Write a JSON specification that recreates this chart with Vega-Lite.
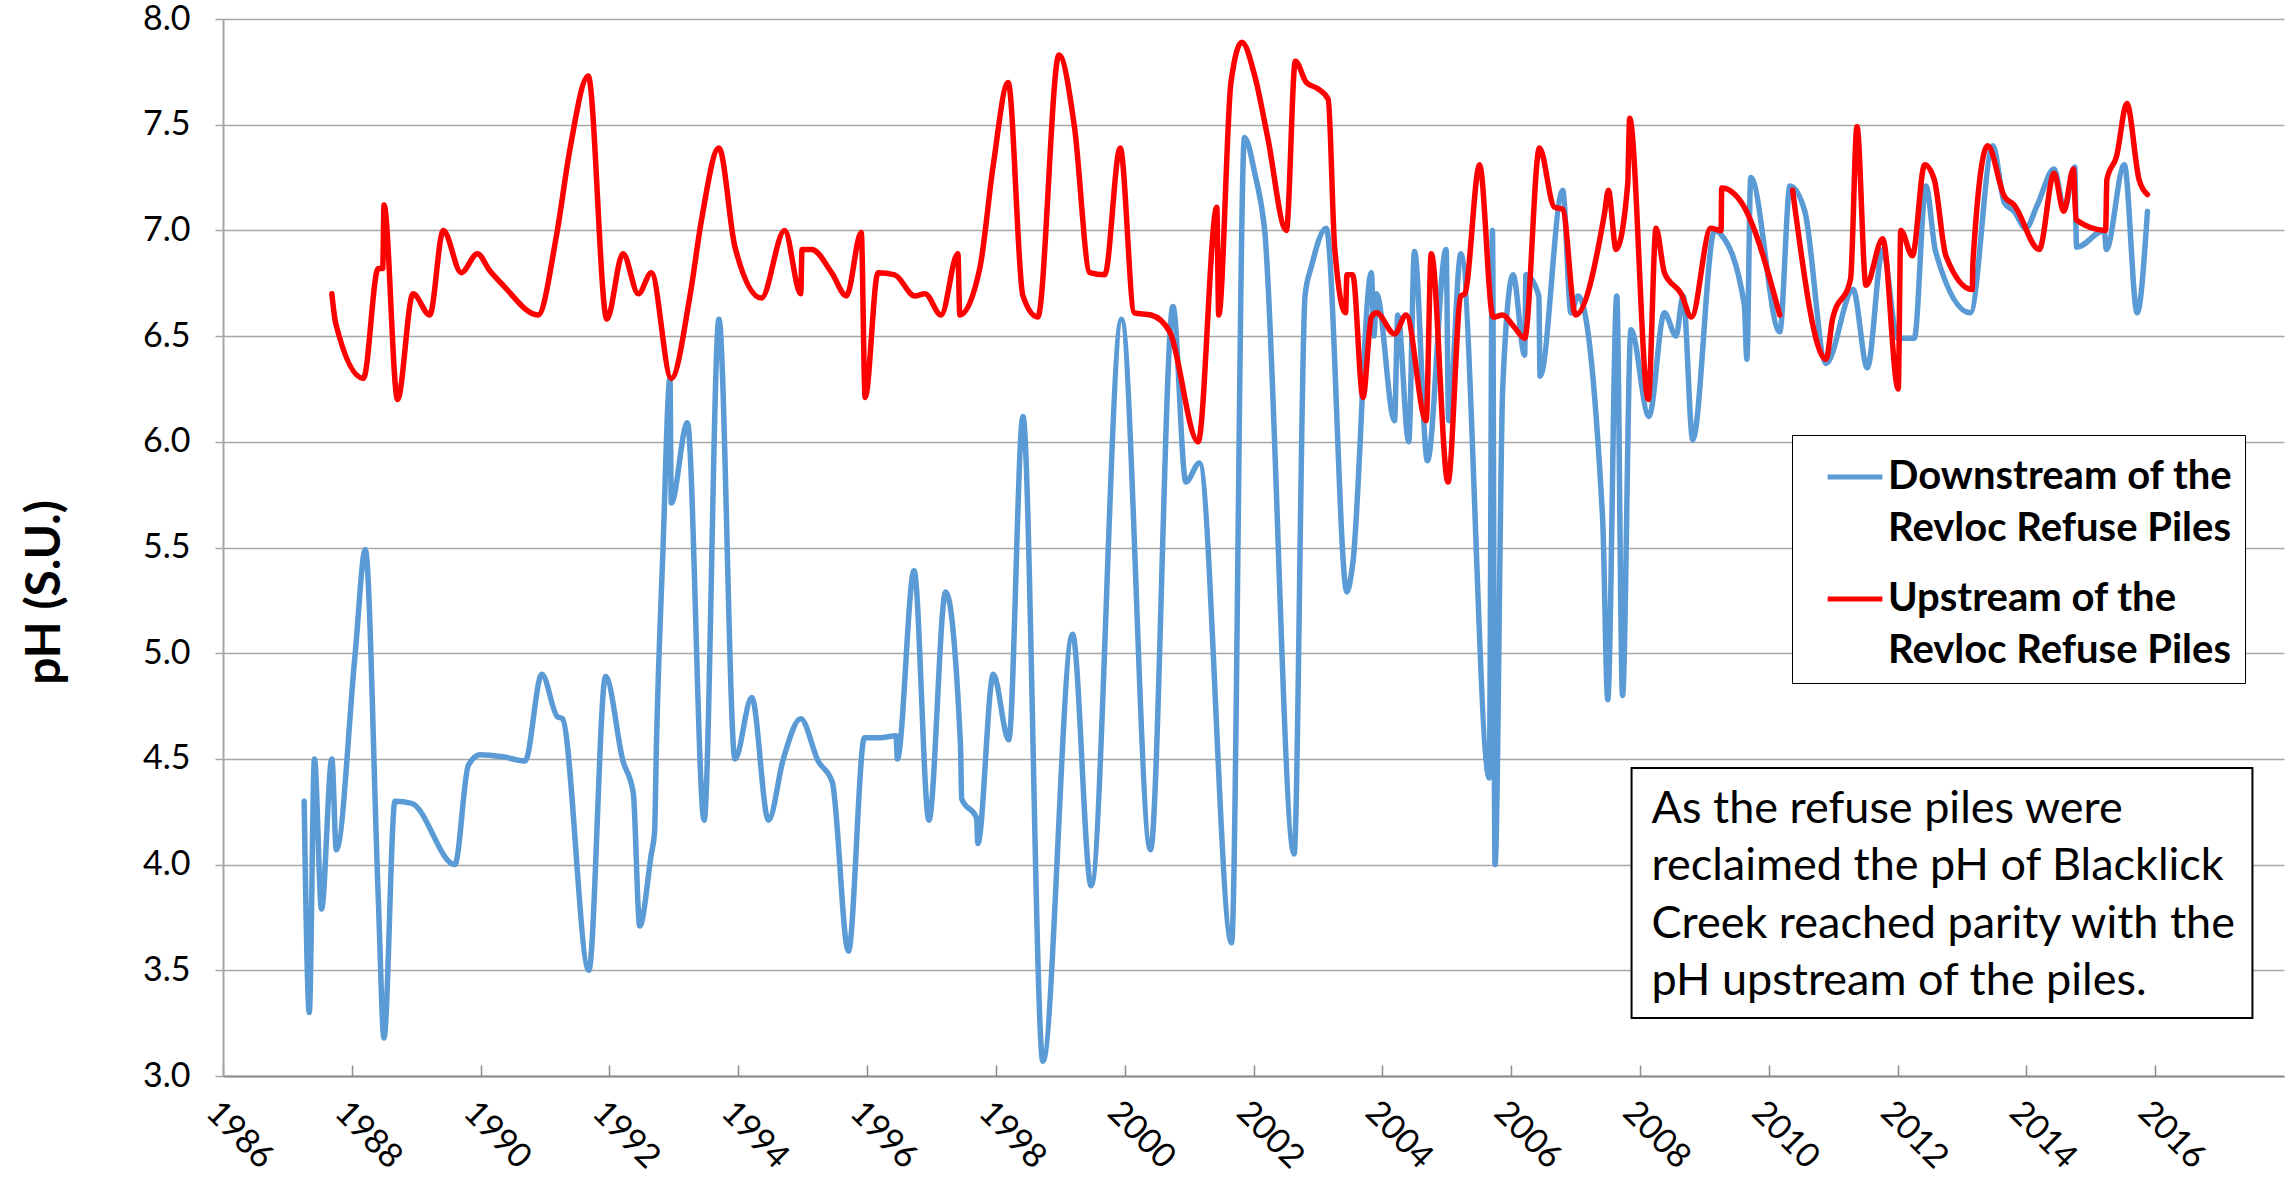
{
  "$schema": "https://vega.github.io/schema/vega-lite/v6.json",
  "width": 2061,
  "height": 1057,
  "autosize": {"type": "none"},
  "padding": {"left": 223, "top": 19, "right": 8, "bottom": 107},
  "background": "white",
  "config": {"view": {"stroke": null}, "font": "Lato", "style": {"guide-label": {"lineHeight": 52}}},
  "datasets": {
    "ph": [
      {"series": "Downstream", "seg": "D1", "year": 1987.26, "pH": 4.30},
      {"series": "Downstream", "seg": "D1", "year": 1987.34, "pH": 3.30},
      {"series": "Downstream", "seg": "D1", "year": 1987.42, "pH": 4.50},
      {"series": "Downstream", "seg": "D1", "year": 1987.53, "pH": 3.79},
      {"series": "Downstream", "seg": "D1", "year": 1987.69, "pH": 4.50},
      {"series": "Downstream", "seg": "D1", "year": 1987.76, "pH": 4.07},
      {"series": "Downstream", "seg": "D1", "year": 1988.05, "pH": 4.99},
      {"series": "Downstream", "seg": "D1", "year": 1988.21, "pH": 5.49},
      {"series": "Downstream", "seg": "D1", "year": 1988.41, "pH": 3.85},
      {"series": "Downstream", "seg": "D1", "year": 1988.50, "pH": 3.18},
      {"series": "Downstream", "seg": "D1", "year": 1988.67, "pH": 4.30},
      {"series": "Downstream", "seg": "D1", "year": 1988.93, "pH": 4.29},
      {"series": "Downstream", "seg": "D1", "year": 1989.60, "pH": 4.00},
      {"series": "Downstream", "seg": "D1", "year": 1989.81, "pH": 4.47},
      {"series": "Downstream", "seg": "D1", "year": 1989.99, "pH": 4.52},
      {"series": "Downstream", "seg": "D1", "year": 1990.35, "pH": 4.51},
      {"series": "Downstream", "seg": "D1", "year": 1990.69, "pH": 4.49},
      {"series": "Downstream", "seg": "D1", "year": 1990.95, "pH": 4.90},
      {"series": "Downstream", "seg": "D1", "year": 1991.19, "pH": 4.70},
      {"series": "Downstream", "seg": "D1", "year": 1991.27, "pH": 4.69},
      {"series": "Downstream", "seg": "D1", "year": 1991.68, "pH": 3.50},
      {"series": "Downstream", "seg": "D1", "year": 1991.94, "pH": 4.89},
      {"series": "Downstream", "seg": "D1", "year": 1992.21, "pH": 4.49},
      {"series": "Downstream", "seg": "D1", "year": 1992.37, "pH": 4.34},
      {"series": "Downstream", "seg": "D1", "year": 1992.47, "pH": 3.71},
      {"series": "Downstream", "seg": "D1", "year": 1992.65, "pH": 4.05},
      {"series": "Downstream", "seg": "D1", "year": 1992.70, "pH": 4.15},
      {"series": "Downstream", "seg": "D1", "year": 1992.73, "pH": 4.57},
      {"series": "Downstream", "seg": "D1", "year": 1992.83, "pH": 5.48},
      {"series": "Downstream", "seg": "D1", "year": 1992.94, "pH": 6.30},
      {"series": "Downstream", "seg": "D1", "year": 1992.96, "pH": 5.71},
      {"series": "Downstream", "seg": "D1", "year": 1993.21, "pH": 6.09},
      {"series": "Downstream", "seg": "D1", "year": 1993.47, "pH": 4.21},
      {"series": "Downstream", "seg": "D1", "year": 1993.70, "pH": 6.58},
      {"series": "Downstream", "seg": "D1", "year": 1993.95, "pH": 4.50},
      {"series": "Downstream", "seg": "D1", "year": 1994.21, "pH": 4.79},
      {"series": "Downstream", "seg": "D1", "year": 1994.47, "pH": 4.21},
      {"series": "Downstream", "seg": "D1", "year": 1994.70, "pH": 4.50},
      {"series": "Downstream", "seg": "D1", "year": 1994.97, "pH": 4.69},
      {"series": "Downstream", "seg": "D1", "year": 1995.24, "pH": 4.49},
      {"series": "Downstream", "seg": "D1", "year": 1995.46, "pH": 4.39},
      {"series": "Downstream", "seg": "D1", "year": 1995.71, "pH": 3.59},
      {"series": "Downstream", "seg": "D1", "year": 1995.96, "pH": 4.60},
      {"series": "Downstream", "seg": "D1", "year": 1996.20, "pH": 4.60},
      {"series": "Downstream", "seg": "D1", "year": 1996.45, "pH": 4.61},
      {"series": "Downstream", "seg": "D1", "year": 1996.47, "pH": 4.50},
      {"series": "Downstream", "seg": "D1", "year": 1996.73, "pH": 5.39},
      {"series": "Downstream", "seg": "D1", "year": 1996.96, "pH": 4.21},
      {"series": "Downstream", "seg": "D1", "year": 1997.22, "pH": 5.29},
      {"series": "Downstream", "seg": "D1", "year": 1997.45, "pH": 4.57},
      {"series": "Downstream", "seg": "D1", "year": 1997.47, "pH": 4.31},
      {"series": "Downstream", "seg": "D1", "year": 1997.70, "pH": 4.22},
      {"series": "Downstream", "seg": "D1", "year": 1997.72, "pH": 4.10},
      {"series": "Downstream", "seg": "D1", "year": 1997.96, "pH": 4.90},
      {"series": "Downstream", "seg": "D1", "year": 1998.20, "pH": 4.59},
      {"series": "Downstream", "seg": "D1", "year": 1998.42, "pH": 6.12},
      {"series": "Downstream", "seg": "D1", "year": 1998.73, "pH": 3.07},
      {"series": "Downstream", "seg": "D1", "year": 1999.19, "pH": 5.09},
      {"series": "Downstream", "seg": "D1", "year": 1999.48, "pH": 3.90},
      {"series": "Downstream", "seg": "D1", "year": 1999.95, "pH": 6.58},
      {"series": "Downstream", "seg": "D1", "year": 2000.40, "pH": 4.07},
      {"series": "Downstream", "seg": "D1", "year": 2000.75, "pH": 6.64},
      {"series": "Downstream", "seg": "D1", "year": 2000.95, "pH": 5.81},
      {"series": "Downstream", "seg": "D1", "year": 2001.16, "pH": 5.90},
      {"series": "Downstream", "seg": "D1", "year": 2001.66, "pH": 3.63},
      {"series": "Downstream", "seg": "D1", "year": 2001.86, "pH": 7.44},
      {"series": "Downstream", "seg": "D1", "year": 2002.02, "pH": 7.27},
      {"series": "Downstream", "seg": "D1", "year": 2002.17, "pH": 7.01},
      {"series": "Downstream", "seg": "D1", "year": 2002.63, "pH": 4.05},
      {"series": "Downstream", "seg": "D1", "year": 2002.80, "pH": 6.69},
      {"series": "Downstream", "seg": "D1", "year": 2002.90, "pH": 6.83},
      {"series": "Downstream", "seg": "D1", "year": 2003.13, "pH": 7.01},
      {"series": "Downstream", "seg": "D1", "year": 2003.45, "pH": 5.29},
      {"series": "Downstream", "seg": "D1", "year": 2003.54, "pH": 5.42},
      {"series": "Downstream", "seg": "D1", "year": 2003.83, "pH": 6.80},
      {"series": "Downstream", "seg": "D1", "year": 2003.87, "pH": 6.50},
      {"series": "Downstream", "seg": "D1", "year": 2003.91, "pH": 6.70},
      {"series": "Downstream", "seg": "D1", "year": 2004.19, "pH": 6.10},
      {"series": "Downstream", "seg": "D1", "year": 2004.24, "pH": 6.60},
      {"series": "Downstream", "seg": "D1", "year": 2004.41, "pH": 6.00},
      {"series": "Downstream", "seg": "D1", "year": 2004.50, "pH": 6.90},
      {"series": "Downstream", "seg": "D1", "year": 2004.70, "pH": 5.91},
      {"series": "Downstream", "seg": "D1", "year": 2004.99, "pH": 6.91},
      {"series": "Downstream", "seg": "D1", "year": 2005.03, "pH": 6.10},
      {"series": "Downstream", "seg": "D1", "year": 2005.22, "pH": 6.89},
      {"series": "Downstream", "seg": "D1", "year": 2005.66, "pH": 4.41},
      {"series": "Downstream", "seg": "D1", "year": 2005.71, "pH": 7.00},
      {"series": "Downstream", "seg": "D1", "year": 2005.75, "pH": 4.00},
      {"series": "Downstream", "seg": "D1", "year": 2005.87, "pH": 6.26},
      {"series": "Downstream", "seg": "D1", "year": 2006.03, "pH": 6.79},
      {"series": "Downstream", "seg": "D1", "year": 2006.21, "pH": 6.41},
      {"series": "Downstream", "seg": "D1", "year": 2006.23, "pH": 6.79},
      {"series": "Downstream", "seg": "D1", "year": 2006.43, "pH": 6.69},
      {"series": "Downstream", "seg": "D1", "year": 2006.45, "pH": 6.31},
      {"series": "Downstream", "seg": "D1", "year": 2006.80, "pH": 7.19},
      {"series": "Downstream", "seg": "D1", "year": 2006.93, "pH": 6.61},
      {"series": "Downstream", "seg": "D1", "year": 2007.04, "pH": 6.69},
      {"series": "Downstream", "seg": "D1", "year": 2007.42, "pH": 5.64},
      {"series": "Downstream", "seg": "D1", "year": 2007.50, "pH": 4.78},
      {"series": "Downstream", "seg": "D1", "year": 2007.64, "pH": 6.69},
      {"series": "Downstream", "seg": "D1", "year": 2007.73, "pH": 4.80},
      {"series": "Downstream", "seg": "D1", "year": 2007.86, "pH": 6.53},
      {"series": "Downstream", "seg": "D1", "year": 2008.14, "pH": 6.12},
      {"series": "Downstream", "seg": "D1", "year": 2008.38, "pH": 6.61},
      {"series": "Downstream", "seg": "D1", "year": 2008.56, "pH": 6.50},
      {"series": "Downstream", "seg": "D1", "year": 2008.67, "pH": 6.69},
      {"series": "Downstream", "seg": "D1", "year": 2008.82, "pH": 6.01},
      {"series": "Downstream", "seg": "D1", "year": 2009.16, "pH": 7.00},
      {"series": "Downstream", "seg": "D1", "year": 2009.26, "pH": 6.98},
      {"series": "Downstream", "seg": "D1", "year": 2009.62, "pH": 6.65},
      {"series": "Downstream", "seg": "D1", "year": 2009.66, "pH": 6.39},
      {"series": "Downstream", "seg": "D1", "year": 2009.72, "pH": 7.25},
      {"series": "Downstream", "seg": "D1", "year": 2010.17, "pH": 6.52},
      {"series": "Downstream", "seg": "D1", "year": 2010.33, "pH": 7.21},
      {"series": "Downstream", "seg": "D1", "year": 2010.56, "pH": 7.09},
      {"series": "Downstream", "seg": "D1", "year": 2010.89, "pH": 6.37},
      {"series": "Downstream", "seg": "D1", "year": 2011.31, "pH": 6.72},
      {"series": "Downstream", "seg": "D1", "year": 2011.53, "pH": 6.35},
      {"series": "Downstream", "seg": "D1", "year": 2011.77, "pH": 6.91},
      {"series": "Downstream", "seg": "D1", "year": 2012.00, "pH": 6.49},
      {"series": "Downstream", "seg": "D1", "year": 2012.26, "pH": 6.49},
      {"series": "Downstream", "seg": "D1", "year": 2012.44, "pH": 7.21},
      {"series": "Downstream", "seg": "D1", "year": 2012.59, "pH": 6.90},
      {"series": "Downstream", "seg": "D1", "year": 2013.13, "pH": 6.61},
      {"series": "Downstream", "seg": "D1", "year": 2013.48, "pH": 7.40},
      {"series": "Downstream", "seg": "D1", "year": 2013.66, "pH": 7.13},
      {"series": "Downstream", "seg": "D1", "year": 2013.81, "pH": 7.09},
      {"series": "Downstream", "seg": "D1", "year": 2013.99, "pH": 7.01},
      {"series": "Downstream", "seg": "D1", "year": 2014.17, "pH": 7.12},
      {"series": "Downstream", "seg": "D1", "year": 2014.43, "pH": 7.29},
      {"series": "Downstream", "seg": "D1", "year": 2014.59, "pH": 7.10},
      {"series": "Downstream", "seg": "D1", "year": 2014.75, "pH": 7.30},
      {"series": "Downstream", "seg": "D1", "year": 2014.78, "pH": 6.92},
      {"series": "Downstream", "seg": "D1", "year": 2015.21, "pH": 7.00},
      {"series": "Downstream", "seg": "D1", "year": 2015.24, "pH": 6.91},
      {"series": "Downstream", "seg": "D1", "year": 2015.52, "pH": 7.31},
      {"series": "Downstream", "seg": "D1", "year": 2015.72, "pH": 6.61},
      {"series": "Downstream", "seg": "D1", "year": 2015.88, "pH": 7.09},

      {"series": "Upstream", "seg": "U1", "year": 1987.69, "pH": 6.70},
      {"series": "Upstream", "seg": "U1", "year": 1987.75, "pH": 6.56},
      {"series": "Upstream", "seg": "U1", "year": 1988.18, "pH": 6.30},
      {"series": "Upstream", "seg": "U1", "year": 1988.41, "pH": 6.82},
      {"series": "Upstream", "seg": "U1", "year": 1988.48, "pH": 6.82},
      {"series": "Upstream", "seg": "U1", "year": 1988.50, "pH": 7.12},
      {"series": "Upstream", "seg": "U1", "year": 1988.71, "pH": 6.20},
      {"series": "Upstream", "seg": "U1", "year": 1988.95, "pH": 6.70},
      {"series": "Upstream", "seg": "U1", "year": 1989.21, "pH": 6.60},
      {"series": "Upstream", "seg": "U1", "year": 1989.42, "pH": 7.00},
      {"series": "Upstream", "seg": "U1", "year": 1989.70, "pH": 6.80},
      {"series": "Upstream", "seg": "U1", "year": 1989.95, "pH": 6.89},
      {"series": "Upstream", "seg": "U1", "year": 1990.14, "pH": 6.81},
      {"series": "Upstream", "seg": "U1", "year": 1990.35, "pH": 6.74},
      {"series": "Upstream", "seg": "U1", "year": 1990.89, "pH": 6.60},
      {"series": "Upstream", "seg": "U1", "year": 1991.18, "pH": 6.98},
      {"series": "Upstream", "seg": "U1", "year": 1991.39, "pH": 7.39},
      {"series": "Upstream", "seg": "U1", "year": 1991.67, "pH": 7.73},
      {"series": "Upstream", "seg": "U1", "year": 1991.96, "pH": 6.58},
      {"series": "Upstream", "seg": "U1", "year": 1992.21, "pH": 6.89},
      {"series": "Upstream", "seg": "U1", "year": 1992.45, "pH": 6.70},
      {"series": "Upstream", "seg": "U1", "year": 1992.65, "pH": 6.80},
      {"series": "Upstream", "seg": "U1", "year": 1992.96, "pH": 6.30},
      {"series": "Upstream", "seg": "U1", "year": 1993.25, "pH": 6.69},
      {"series": "Upstream", "seg": "U1", "year": 1993.43, "pH": 7.05},
      {"series": "Upstream", "seg": "U1", "year": 1993.70, "pH": 7.39},
      {"series": "Upstream", "seg": "U1", "year": 1993.95, "pH": 6.92},
      {"series": "Upstream", "seg": "U1", "year": 1994.36, "pH": 6.68},
      {"series": "Upstream", "seg": "U1", "year": 1994.72, "pH": 7.00},
      {"series": "Upstream", "seg": "U1", "year": 1994.97, "pH": 6.70},
      {"series": "Upstream", "seg": "U1", "year": 1994.99, "pH": 6.91},
      {"series": "Upstream", "seg": "U1", "year": 1995.14, "pH": 6.91},
      {"series": "Upstream", "seg": "U1", "year": 1995.45, "pH": 6.80},
      {"series": "Upstream", "seg": "U1", "year": 1995.68, "pH": 6.69},
      {"series": "Upstream", "seg": "U1", "year": 1995.91, "pH": 6.99},
      {"series": "Upstream", "seg": "U1", "year": 1995.97, "pH": 6.21},
      {"series": "Upstream", "seg": "U1", "year": 1996.17, "pH": 6.80},
      {"series": "Upstream", "seg": "U1", "year": 1996.43, "pH": 6.79},
      {"series": "Upstream", "seg": "U1", "year": 1996.74, "pH": 6.69},
      {"series": "Upstream", "seg": "U1", "year": 1996.90, "pH": 6.70},
      {"series": "Upstream", "seg": "U1", "year": 1997.15, "pH": 6.60},
      {"series": "Upstream", "seg": "U1", "year": 1997.41, "pH": 6.89},
      {"series": "Upstream", "seg": "U1", "year": 1997.44, "pH": 6.60},
      {"series": "Upstream", "seg": "U1", "year": 1997.75, "pH": 6.82},
      {"series": "Upstream", "seg": "U1", "year": 1997.96, "pH": 7.31},
      {"series": "Upstream", "seg": "U1", "year": 1998.19, "pH": 7.70},
      {"series": "Upstream", "seg": "U1", "year": 1998.42, "pH": 6.69},
      {"series": "Upstream", "seg": "U1", "year": 1998.65, "pH": 6.59},
      {"series": "Upstream", "seg": "U1", "year": 1998.98, "pH": 7.83},
      {"series": "Upstream", "seg": "U1", "year": 1999.22, "pH": 7.49},
      {"series": "Upstream", "seg": "U1", "year": 1999.46, "pH": 6.80},
      {"series": "Upstream", "seg": "U1", "year": 1999.69, "pH": 6.79},
      {"series": "Upstream", "seg": "U1", "year": 1999.93, "pH": 7.39},
      {"series": "Upstream", "seg": "U1", "year": 2000.15, "pH": 6.61},
      {"series": "Upstream", "seg": "U1", "year": 2000.41, "pH": 6.60},
      {"series": "Upstream", "seg": "U1", "year": 2000.70, "pH": 6.52},
      {"series": "Upstream", "seg": "U1", "year": 2001.14, "pH": 6.00},
      {"series": "Upstream", "seg": "U1", "year": 2001.43, "pH": 7.11},
      {"series": "Upstream", "seg": "U1", "year": 2001.46, "pH": 6.60},
      {"series": "Upstream", "seg": "U1", "year": 2001.65, "pH": 7.70},
      {"series": "Upstream", "seg": "U1", "year": 2001.82, "pH": 7.89},
      {"series": "Upstream", "seg": "U1", "year": 2002.02, "pH": 7.73},
      {"series": "Upstream", "seg": "U1", "year": 2002.22, "pH": 7.44},
      {"series": "Upstream", "seg": "U1", "year": 2002.51, "pH": 7.00},
      {"series": "Upstream", "seg": "U1", "year": 2002.65, "pH": 7.80},
      {"series": "Upstream", "seg": "U1", "year": 2002.82, "pH": 7.70},
      {"series": "Upstream", "seg": "U1", "year": 2003.00, "pH": 7.67},
      {"series": "Upstream", "seg": "U1", "year": 2003.16, "pH": 7.62},
      {"series": "Upstream", "seg": "U1", "year": 2003.26, "pH": 6.92},
      {"series": "Upstream", "seg": "U1", "year": 2003.43, "pH": 6.61},
      {"series": "Upstream", "seg": "U1", "year": 2003.45, "pH": 6.79},
      {"series": "Upstream", "seg": "U1", "year": 2003.54, "pH": 6.79},
      {"series": "Upstream", "seg": "U1", "year": 2003.70, "pH": 6.21},
      {"series": "Upstream", "seg": "U1", "year": 2003.83, "pH": 6.59},
      {"series": "Upstream", "seg": "U1", "year": 2003.91, "pH": 6.61},
      {"series": "Upstream", "seg": "U1", "year": 2004.19, "pH": 6.51},
      {"series": "Upstream", "seg": "U1", "year": 2004.37, "pH": 6.60},
      {"series": "Upstream", "seg": "U1", "year": 2004.68, "pH": 6.10},
      {"series": "Upstream", "seg": "U1", "year": 2004.76, "pH": 6.89},
      {"series": "Upstream", "seg": "U1", "year": 2005.02, "pH": 5.81},
      {"series": "Upstream", "seg": "U1", "year": 2005.22, "pH": 6.69},
      {"series": "Upstream", "seg": "U1", "year": 2005.28, "pH": 6.70},
      {"series": "Upstream", "seg": "U1", "year": 2005.51, "pH": 7.31},
      {"series": "Upstream", "seg": "U1", "year": 2005.72, "pH": 6.59},
      {"series": "Upstream", "seg": "U1", "year": 2005.87, "pH": 6.60},
      {"series": "Upstream", "seg": "U1", "year": 2006.03, "pH": 6.55},
      {"series": "Upstream", "seg": "U1", "year": 2006.21, "pH": 6.49},
      {"series": "Upstream", "seg": "U1", "year": 2006.44, "pH": 7.39},
      {"series": "Upstream", "seg": "U1", "year": 2006.67, "pH": 7.11},
      {"series": "Upstream", "seg": "U1", "year": 2006.80, "pH": 7.10},
      {"series": "Upstream", "seg": "U1", "year": 2007.00, "pH": 6.60},
      {"series": "Upstream", "seg": "U1", "year": 2007.45, "pH": 7.08},
      {"series": "Upstream", "seg": "U1", "year": 2007.51, "pH": 7.19},
      {"series": "Upstream", "seg": "U1", "year": 2007.63, "pH": 6.91},
      {"series": "Upstream", "seg": "U1", "year": 2007.81, "pH": 7.22},
      {"series": "Upstream", "seg": "U1", "year": 2007.84, "pH": 7.53},
      {"series": "Upstream", "seg": "U1", "year": 2008.13, "pH": 6.20},
      {"series": "Upstream", "seg": "U1", "year": 2008.25, "pH": 7.01},
      {"series": "Upstream", "seg": "U1", "year": 2008.38, "pH": 6.80},
      {"series": "Upstream", "seg": "U1", "year": 2008.64, "pH": 6.70},
      {"series": "Upstream", "seg": "U1", "year": 2008.80, "pH": 6.59},
      {"series": "Upstream", "seg": "U1", "year": 2009.10, "pH": 7.01},
      {"series": "Upstream", "seg": "U1", "year": 2009.26, "pH": 7.00},
      {"series": "Upstream", "seg": "U1", "year": 2009.27, "pH": 7.20},
      {"series": "Upstream", "seg": "U1", "year": 2009.62, "pH": 7.11},
      {"series": "Upstream", "seg": "U1", "year": 2009.78, "pH": 7.00},
      {"series": "Upstream", "seg": "U1", "year": 2010.17, "pH": 6.60},
      {"series": "Upstream", "seg": "U2", "year": 2010.37, "pH": 7.19},
      {"series": "Upstream", "seg": "U2", "year": 2010.89, "pH": 6.39},
      {"series": "Upstream", "seg": "U2", "year": 2010.99, "pH": 6.58},
      {"series": "Upstream", "seg": "U2", "year": 2011.27, "pH": 6.77},
      {"series": "Upstream", "seg": "U2", "year": 2011.37, "pH": 7.49},
      {"series": "Upstream", "seg": "U2", "year": 2011.51, "pH": 6.74},
      {"series": "Upstream", "seg": "U2", "year": 2011.77, "pH": 6.96},
      {"series": "Upstream", "seg": "U2", "year": 2012.01, "pH": 6.25},
      {"series": "Upstream", "seg": "U2", "year": 2012.05, "pH": 7.00},
      {"series": "Upstream", "seg": "U2", "year": 2012.23, "pH": 6.88},
      {"series": "Upstream", "seg": "U2", "year": 2012.42, "pH": 7.31},
      {"series": "Upstream", "seg": "U2", "year": 2012.57, "pH": 7.24},
      {"series": "Upstream", "seg": "U2", "year": 2012.75, "pH": 6.88},
      {"series": "Upstream", "seg": "U2", "year": 2013.16, "pH": 6.72},
      {"series": "Upstream", "seg": "U2", "year": 2013.17, "pH": 6.85},
      {"series": "Upstream", "seg": "U2", "year": 2013.40, "pH": 7.40},
      {"series": "Upstream", "seg": "U2", "year": 2013.66, "pH": 7.16},
      {"series": "Upstream", "seg": "U2", "year": 2013.81, "pH": 7.12},
      {"series": "Upstream", "seg": "U2", "year": 2014.20, "pH": 6.91},
      {"series": "Upstream", "seg": "U2", "year": 2014.43, "pH": 7.27},
      {"series": "Upstream", "seg": "U2", "year": 2014.58, "pH": 7.09},
      {"series": "Upstream", "seg": "U2", "year": 2014.73, "pH": 7.29},
      {"series": "Upstream", "seg": "U2", "year": 2014.77, "pH": 7.05},
      {"series": "Upstream", "seg": "U2", "year": 2015.23, "pH": 7.00},
      {"series": "Upstream", "seg": "U2", "year": 2015.25, "pH": 7.24},
      {"series": "Upstream", "seg": "U2", "year": 2015.40, "pH": 7.35},
      {"series": "Upstream", "seg": "U2", "year": 2015.56, "pH": 7.60},
      {"series": "Upstream", "seg": "U2", "year": 2015.75, "pH": 7.24},
      {"series": "Upstream", "seg": "U2", "year": 2015.88, "pH": 7.17}
    ]
  },
  "layer": [
    {
      "data": {"name": "ph"},
      "mark": {"type": "line", "interpolate": "monotone", "strokeWidth": 5.5, "strokeCap": "round", "strokeJoin": "round"},
      "encoding": {
        "x": {
          "field": "year", "type": "quantitative",
          "scale": {"domain": [1986, 2018], "nice": false, "zero": false},
          "axis": {
            "title": null,
            "values": [1986, 1988, 1990, 1992, 1994, 1996, 1998, 2000, 2002, 2004, 2006, 2008, 2010, 2012, 2014, 2016],
            "format": "d",
            "grid": false,
            "labelAngle": 45,
            "labelAlign": "left",
            "labelBaseline": "top",
            "labelFont": "Lato",
            "labelFontSize": 34,
            "labelColor": "black",
            "labelPadding": 30,
            "labelOverlap": false,
            "labelFlush": false,
            "domainColor": "#8c8c8c",
            "domainWidth": 2,
            "tickColor": "#8c8c8c",
            "tickWidth": 1.5,
            "tickSize": -11
          }
        },
        "y": {
          "field": "pH", "type": "quantitative",
          "scale": {"domain": [3, 8], "nice": false, "zero": false},
          "axis": {
            "title": "pH (S.U.)",
            "titleFont": "Lato",
            "titleFontSize": 48,
            "titleFontWeight": "bold",
            "titleColor": "black",
            "titleAngle": -90,
            "titleAlign": "center",
            "titleBaseline": "middle",
            "titleX": -178,
            "titleY": 573,
            "values": [3, 3.5, 4, 4.5, 5, 5.5, 6, 6.5, 7, 7.5, 8],
            "format": ".1f",
            "grid": true,
            "gridColor": "#a6a6a6",
            "gridWidth": 1.5,
            "tickColor": "#a6a6a6",
            "tickWidth": 1.5,
            "tickSize": 8,
            "domainColor": "#a6a6a6",
            "domainWidth": 2,
            "labelFont": "Lato",
            "labelFontSize": 34,
            "labelColor": "black",
            "labelPadding": 25
          }
        },
        "color": {
          "field": "series", "type": "nominal",
          "scale": {"domain": ["Downstream", "Upstream"], "range": ["#5B9BD5", "#FF0000"]},
          "legend": {
            "title": null,
            "orient": "none",
            "legendX": 1569,
            "legendY": 416,
            "fillColor": "white",
            "strokeColor": "black",
            "padding": 12,
            "symbolType": "stroke",
            "symbolSize": 3000,
            "symbolStrokeWidth": 5,
            "symbolOffset": 21,
            "labelOffset": 3,
            "labelFont": "Lato",
            "labelFontSize": 40,
            "labelFontWeight": "bold",
            "labelColor": "black",
            "labelLimit": 0,
            "labelBaseline": "middle",
            "rowPadding": 20,
            "labelExpr": "datum.label == 'Downstream' ? ['Downstream of the', 'Revloc Refuse Piles'] : ['Upstream of the', 'Revloc Refuse Piles']"
          }
        },
        "detail": {"field": "seg", "type": "nominal"}
      }
    },
    {
      "data": {"values": [{}]},
      "mark": {"type": "rect", "fill": "white", "stroke": "black", "strokeWidth": 2},
      "encoding": {
        "x": {"datum": 2007.87, "type": "quantitative"},
        "x2": {"datum": 2017.51},
        "y": {"datum": 4.457, "type": "quantitative"},
        "y2": {"datum": 3.274}
      }
    },
    {
      "data": {"values": [{}]},
      "mark": {"type": "text", "align": "left", "baseline": "alphabetic", "font": "Lato", "fontSize": 45, "lineHeight": 57.5, "color": "black"},
      "encoding": {
        "x": {"datum": 2008.18, "type": "quantitative"},
        "y": {"datum": 4.197, "type": "quantitative"},
        "text": {"value": ["As the refuse piles were", "reclaimed the pH of Blacklick", "Creek reached parity with the", "pH upstream of the piles."]}
      }
    }
  ]
}
